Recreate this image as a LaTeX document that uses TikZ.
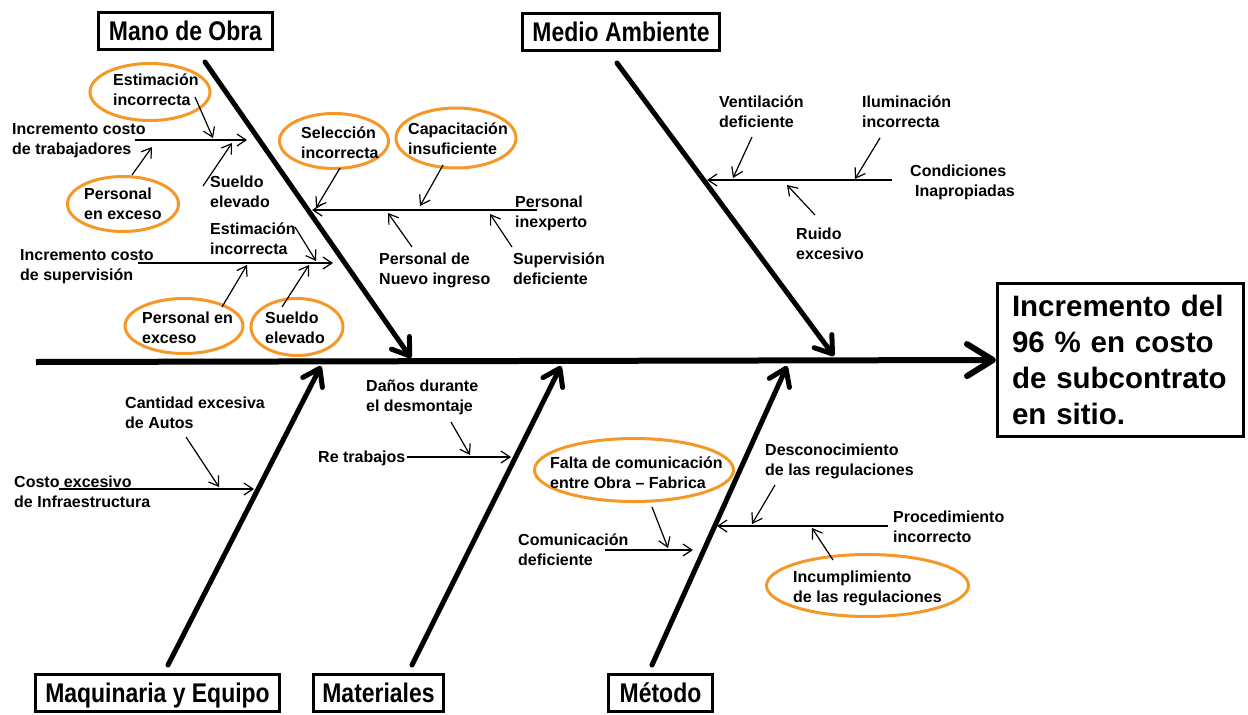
\documentclass[tikz,border=0pt]{standalone}
\usepackage{fontspec}
\setmainfont{Liberation Sans}
\newfontfamily\catfont{Liberation Sans}[FakeStretch=0.85]
\usetikzlibrary{arrows.meta,shapes.geometric}
\definecolor{ringorange}{RGB}{245,152,40}

\tikzset{
  lbl/.style={font=\fontsize{16}{20}\selectfont\bfseries, align=left, inner sep=0pt, anchor=north west},
  ring/.style={ellipse, draw=ringorange, line width=3pt, inner sep=0pt},
  catbox/.style={draw, line width=3pt, font=\catfont\bfseries\fontsize{27}{30}\selectfont,
    minimum height=37pt, inner xsep=0pt, text height=19.5pt, text depth=0pt},
  effectbox/.style={draw, line width=3pt, font=\bfseries\fontsize{29.5}{36}\selectfont,
    align=left, text width=217pt, inner xsep=14.5pt, minimum width=246pt, minimum height=153pt},
  spine/.style={line width=6pt, -{Straight Barb[length=26pt,width=32pt,round]}},
  bone/.style={line width=5pt, line cap=round, -{Straight Barb[length=16pt,width=22pt,round]}},
  twig/.style={line width=1.2pt, -{Straight Barb[length=9pt,width=12pt]}},
}

\begin{document}
\begin{tikzpicture}[x=1pt,y=-1pt]
\fill[white] (0,0) rectangle (1248,715);
\useasboundingbox (0,0) rectangle (1248,715);

% ---------- category boxes and effect ----------
\node[catbox, minimum width=174pt] (mano)  at (185.5,30.5) {Mano de Obra};
\node[catbox, minimum width=197pt] (medio) at (621,32) {Medio Ambiente};
\node[catbox, minimum width=244pt] (maq)   at (157.5,693) {Maquinaria y Equipo};
\node[catbox, minimum width=130pt] (mat)   at (378.5,693) {Materiales};
\node[catbox, minimum width=104pt] (met)   at (660.5,693) {Método};
\node[effectbox] (effect) at (1120.5,360)
  {Incremento del\\96 \% en costo\\de subcontrato\\en sitio.};

% ---------- spine and main bones ----------
\coordinate (spineL) at (36,362);
\draw[spine] (spineL) -- (effect.west);

\coordinate (manoS) at (205,62);   \coordinate (manoT) at (411,358);
\coordinate (medioS) at (617,63);  \coordinate (medioT) at (834,356);
\coordinate (maqS) at (168,665);   \coordinate (maqT) at (321,366);
\coordinate (matS) at (412,665);   \coordinate (matT) at (561,366);
\coordinate (metS) at (652,665);   \coordinate (metT) at (787,366);
\draw[bone] (manoS) -- (manoT);
\draw[bone] (medioS) -- (medioT);
\draw[bone] (maqS) -- (maqT);
\draw[bone] (matS) -- (matT);
\draw[bone] (metS) -- (metT);

% ---------- highlighted causes (rings) ----------
\node[ring, minimum width=120pt, minimum height=57pt] (rEstA) at (150,92) {};
\node[ring, minimum width=111pt, minimum height=55pt] (rPerA) at (123,204) {};
\node[ring, minimum width=109pt, minimum height=55pt] (rSel)  at (334,141) {};
\node[ring, minimum width=120pt, minimum height=60pt] (rCap)  at (456,138) {};
\node[ring, minimum width=118pt, minimum height=55pt] (rPerB) at (184,326) {};
\node[ring, minimum width=92pt,  minimum height=57pt] (rSueB) at (297,327) {};
\node[ring, minimum width=199pt, minimum height=63pt] (rFal)  at (634,470) {};
\node[ring, minimum width=202pt, minimum height=62pt] (rInc)  at (867.5,585.5) {};

% ---------- labels: Mano de Obra ----------
\node[lbl] (tIncA) at (12,123.5)  {Incremento costo\\de trabajadores};
\node[lbl] (tEstA) at (113,73.5)  {Estimación\\incorrecta};
\node[lbl] (tPerA) at (84,187.5)  {Personal\\en exceso};
\node[lbl] (tSueA) at (210,176)   {Sueldo\\elevado};
\node[lbl] (tInex) at (515,195.5) {Personal\\inexperto};
\node[lbl] (tSel)  at (301,126.5) {Selección\\incorrecta};
\node[lbl] (tCap)  at (408,122.5) {Capacitación\\insuficiente};
\node[lbl] (tNuevo) at (379,252.5) {Personal de\\Nuevo ingreso};
\node[lbl] (tSupv) at (513,252.5) {Supervisión\\deficiente};
\node[lbl] (tIncB) at (20,249.5)  {Incremento costo\\de supervisión};
\node[lbl] (tEstB) at (210,222.5) {Estimación\\incorrecta};
\node[lbl] (tPerB) at (142,311.5) {Personal en\\exceso};
\node[lbl] (tSueB) at (265,311.5) {Sueldo\\elevado};

% ---------- labels: Medio Ambiente ----------
\node[lbl] (tCond) at (910,164.5) {Condiciones\\\hspace*{5pt}Inapropiadas};
\node[lbl] (tVent) at (719,95.5)  {Ventilación\\deficiente};
\node[lbl] (tIlum) at (862,95.5)  {Iluminación\\incorrecta};
\node[lbl] (tRuido) at (796,227.5) {Ruido\\excesivo};

% ---------- labels: lower causes ----------
\node[lbl] (tCosto) at (14,475.5) {Costo excesivo\\de Infraestructura};
\node[lbl] (tCant) at (125,396.5) {Cantidad excesiva\\de Autos};
\node[lbl] (tRe)   at (318,450.5) {Re trabajos};
\node[lbl] (tDan)  at (366,379.5) {Daños durante\\el desmontaje};
\node[lbl] (tCom)  at (518,533.5) {Comunicación\\deficiente};
\node[lbl] (tFal)  at (550,456.5) {Falta de comunicación\\entre Obra – Fabrica};
\node[lbl] (tProc) at (893,510.5) {Procedimiento\\incorrecto};
\node[lbl] (tDesc) at (765,443.5) {Desconocimiento\\de las regulaciones};
\node[lbl] (tInc)  at (793,570.5) {Incumplimiento\\de las regulaciones};

% ---------- sub-cause lines: Mano de Obra ----------
\coordinate (a0) at (135,140); \coordinate (a1) at (247,140);
\draw[twig] (a0) -- (a1);
\coordinate (a2) at (195,97);  \coordinate (a3) at (213,138);
\draw[twig] (a2) -- (a3);
\coordinate (a4) at (132,175); \coordinate (a5) at (152,147);
\draw[twig] (a4) -- (a5);
\coordinate (a6) at (203,186); \coordinate (a7) at (232,143);
\draw[twig] (a6) -- (a7);

\coordinate (b0) at (537,210); \coordinate (b1) at (312,210);
\draw[twig] (b0) -- (b1);
\coordinate (b2) at (340,168); \coordinate (b3) at (316,208);
\draw[twig] (b2) -- (b3);
\coordinate (b4) at (443,165); \coordinate (b5) at (420,206);
\draw[twig] (b4) -- (b5);
\coordinate (b6) at (412,247); \coordinate (b7) at (388,213);
\draw[twig] (b6) -- (b7);
\coordinate (b8) at (512,247); \coordinate (b9) at (490,214);
\draw[twig] (b8) -- (b9);

\coordinate (c0) at (138,263); \coordinate (c1) at (333,263);
\draw[twig] (c0) -- (c1);
\coordinate (c2) at (295,227); \coordinate (c3) at (316,261);
\draw[twig] (c2) -- (c3);
\coordinate (c4) at (222,307); \coordinate (c5) at (247,265);
\draw[twig] (c4) -- (c5);
\coordinate (c6) at (282,307); \coordinate (c7) at (309,265);
\draw[twig] (c6) -- (c7);

% ---------- sub-cause lines: Medio Ambiente ----------
\coordinate (d0) at (892,180); \coordinate (d1) at (707,180);
\draw[twig] (d0) -- (d1);
\coordinate (d2) at (752,137); \coordinate (d3) at (733,178);
\draw[twig] (d2) -- (d3);
\coordinate (d4) at (880,138); \coordinate (d5) at (855,179);
\draw[twig] (d4) -- (d5);
\coordinate (d6) at (815,215); \coordinate (d7) at (787,185);
\draw[twig] (d6) -- (d7);

% ---------- sub-cause lines: Maquinaria, Materiales, Método ----------
\coordinate (e0) at (59,489);  \coordinate (e1) at (254,489);
\draw[twig] (e0) -- (e1);
\coordinate (e2) at (186,437); \coordinate (e3) at (219,487);
\draw[twig] (e2) -- (e3);

\coordinate (f0) at (407,457); \coordinate (f1) at (511,457);
\draw[twig] (f0) -- (f1);
\coordinate (f2) at (451,422); \coordinate (f3) at (470,455);
\draw[twig] (f2) -- (f3);

\coordinate (g0) at (605,550); \coordinate (g1) at (693,550);
\draw[twig] (g0) -- (g1);
\coordinate (g2) at (652,507); \coordinate (g3) at (668,548);
\draw[twig] (g2) -- (g3);

\coordinate (h0) at (888,526); \coordinate (h1) at (717,526);
\draw[twig] (h0) -- (h1);
\coordinate (h2) at (775,485); \coordinate (h3) at (752,524);
\draw[twig] (h2) -- (h3);
\coordinate (h4) at (833,560); \coordinate (h5) at (812,528);
\draw[twig] (h4) -- (h5);
\end{tikzpicture}
\end{document}
